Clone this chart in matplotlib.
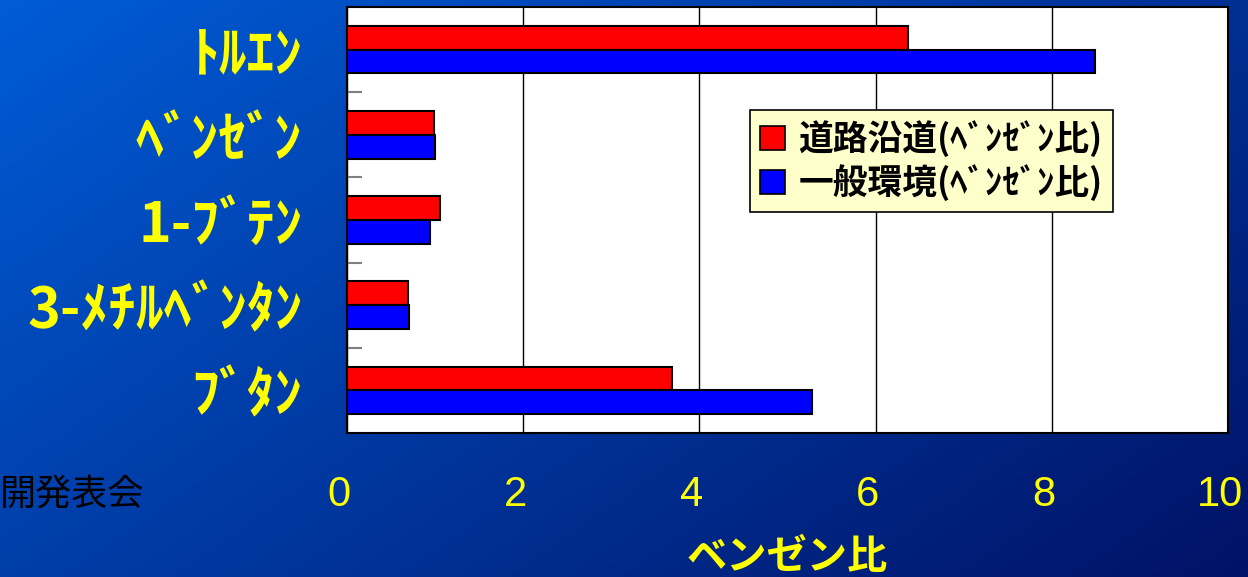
import numpy as np
import matplotlib.pyplot as plt
import matplotlib.transforms as mtransforms
from matplotlib.patches import Patch

plt.rcParams['font.family'] = ['Noto Sans CJK JP', 'DejaVu Sans']

compounds = ['ﾄﾙｴﾝ', 'ﾍﾞﾝｾﾞﾝ', '1-ﾌﾞﾃﾝ', '3-ﾒﾁﾙﾍﾞﾝﾀﾝ', 'ﾌﾞﾀﾝ']
roadside = [6.37, 0.99, 1.06, 0.69, 3.69]
general = [8.49, 1.00, 0.94, 0.70, 5.28]
series_names = ['道路沿道(ﾍﾞﾝｾﾞﾝ比)', '一般環境(ﾍﾞﾝｾﾞﾝ比)']
xticks = [0, 2, 4, 6, 8, 10]

fig = plt.figure(figsize=(12.48, 5.77), dpi=100)

# diagonal blue background
bg = fig.add_axes([0, 0, 1, 1], zorder=-10)
gx, gy = np.meshgrid(np.linspace(0, 1, 300), np.linspace(0, 1, 150))
t = (gx * 0.6 + gy * 0.4)[..., None]
c0 = np.array([0.0, 0.36, 0.84])
c1 = np.array([0.0, 0.07, 0.40])
bg.imshow(c0 * (1 - t) + c1 * t, aspect='auto', extent=[0, 1, 0, 1], origin='upper')
bg.set_axis_off()

ax = fig.add_axes([0.278, 0.2496, 0.706, 0.7384])
ax.set_facecolor('white')
y = np.arange(len(compounds))
h = 0.28
ax.barh(y - h / 2, roadside, height=h, color='#ff0000', edgecolor='black', linewidth=1.5, zorder=3)
ax.barh(y + h / 2, general, height=h, color='#0000ff', edgecolor='black', linewidth=1.5, zorder=3)

ax.set_xlim(0, 10)
ax.set_ylim(len(compounds) - 0.5, -0.5)
ax.set_xticks(xticks)
ax.set_xticklabels([str(v) for v in xticks], family='Liberation Sans', fontsize=30, color='#ffff00')
ax.tick_params(axis='x', length=0, pad=30)
# tick numbers sit a little left of their gridlines
shift = mtransforms.ScaledTranslation(-8 / 100, 0, fig.dpi_scale_trans)
for lbl in ax.get_xticklabels():
    lbl.set_transform(lbl.get_transform() + shift)
ax.grid(axis='x', color='black', linewidth=1, zorder=1)

ax.set_yticks(y)
ax.set_yticklabels(compounds, fontsize=40, fontweight='bold', color='#ffff00')
ax.tick_params(axis='y', which='major', length=0, pad=32)
ax.set_yticks(np.arange(0.5, len(compounds) - 1, 1), minor=True)
ax.tick_params(axis='y', which='minor', direction='in', length=11, color='#808080', width=1.5)

for s in ax.spines.values():
    s.set_color('black')
    s.set_linewidth(1.5)

ax.set_xlabel('ベンゼン比', fontsize=29, fontweight='bold', color='#ffff00', labelpad=16)

handles = [Patch(facecolor='#ff0000', edgecolor='black', linewidth=1.2),
           Patch(facecolor='#0000ff', edgecolor='black', linewidth=1.2)]
leg = fig.legend(handles, series_names, loc='upper left', bbox_to_anchor=(0.601, 0.809),
                 prop={'family': ['Noto Sans CJK JP', 'DejaVu Sans'], 'size': 25, 'weight': 'bold'},
                 frameon=True, fancybox=False, facecolor='#ffffcc', edgecolor='black', framealpha=1,
                 handlelength=0.7, handleheight=0.7, handletextpad=0.4, labelspacing=0.2,
                 borderpad=0.3, borderaxespad=0)
leg.get_frame().set_linewidth(1.2)

fig.text(0.0, 0.142, '開発表会', fontsize=26, color='black', ha='left', va='center')

fig.savefig('out.png', dpi=100)
